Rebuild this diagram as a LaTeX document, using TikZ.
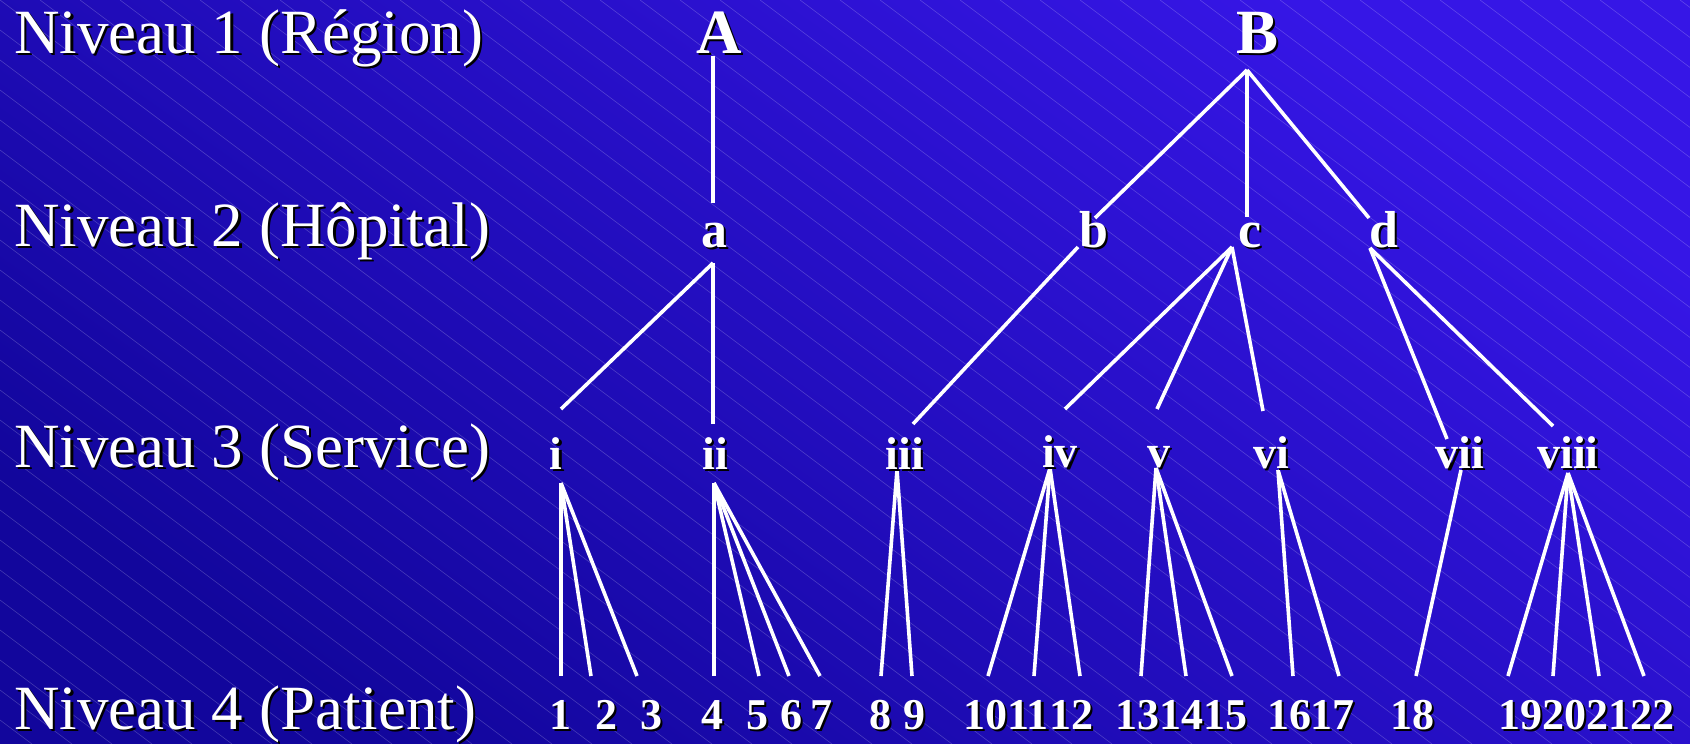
\documentclass[tikz,border=0pt]{standalone}
\usepackage{fontspec}
\setmainfont{Liberation Serif}
\definecolor{bgdark}{RGB}{18,6,156}
\definecolor{bglight}{RGB}{54,22,230}
\newcommand\shd[1]{\leavevmode\rlap{\kern2.4pt\raisebox{-2.4pt}{\textcolor{black}{#1}}}#1}
\begin{document}
\begin{tikzpicture}[x=1pt,y=-1pt,
  lvl/.style={anchor=base west,text=white,inner sep=0pt,font=\fontsize{63}{63}\selectfont},
  rootlab/.style={anchor=base,text=white,inner sep=0pt,font=\fontsize{63}{63}\selectfont\bfseries},
  hosplab/.style={anchor=base,text=white,inner sep=0pt,font=\fontsize{52}{52}\selectfont\bfseries},
  servlab/.style={anchor=base,text=white,inner sep=0pt,font=\fontsize{46}{46}\selectfont\bfseries},
  patlab/.style={anchor=base,text=white,inner sep=0pt,font=\fontsize{44}{44}\selectfont\bfseries},
  edge/.style={draw=white,line width=3.6pt},
  hatch/.style={draw=white,opacity=0.2,line width=0.6pt}]
% background
\shade[top color=bglight,bottom color=bgdark,shading angle=-35] (0,0) rectangle (1690,744);
\useasboundingbox (0,0) rectangle (1690,744);
\begin{scope}
  \clip (0,0) rectangle (1690,744);
  \foreach \k in {-26,...,43} \draw[hatch] (\k*40,0) -- ++(992,744);
\end{scope}

% attach points
\coordinate (A-d) at (713,56);   \coordinate (a-u) at (713,203);
\coordinate (B-d) at (1247,70);  \coordinate (b-u) at (1095,218);
\coordinate (c-u) at (1247,217); \coordinate (d-u) at (1369,218);
\coordinate (a-d) at (713,263);  \coordinate (i-u) at (561,409);  \coordinate (ii-u) at (713,424);
\coordinate (b-d) at (1078,247); \coordinate (iii-u) at (913,424);
\coordinate (c-d) at (1232,247); \coordinate (iv-u) at (1065,409);
\coordinate (v-u) at (1157,409); \coordinate (vi-u) at (1263,411);
\coordinate (d-d) at (1370,248); \coordinate (vii-u) at (1447,439); \coordinate (viii-u) at (1553,426);
\coordinate (i-d) at (561,483);   \coordinate (ii-d) at (714,483);  \coordinate (iii-d) at (897,470);
\coordinate (iv-d) at (1050,468); \coordinate (v-d) at (1156,468);  \coordinate (vi-d) at (1278,470);
\coordinate (vii-d) at (1461,470); \coordinate (viii-d) at (1568,473);
\foreach \n/\x in {1/561,2/591,3/637,4/714,5/759,6/789,7/820,8/881,9/912,10/988,11/1034,12/1080,
  13/1141,14/1186,15/1232,16/1293,17/1339,18/1416,19/1508,20/1553,21/1599,22/1644}
  \coordinate (p\n-u) at (\x,676);

% connectors
\draw[edge] (A-d) -- (a-u);
\draw[edge] (B-d) -- (b-u);
\draw[edge] (B-d) -- (c-u);
\draw[edge] (B-d) -- (d-u);
\draw[edge] (a-d) -- (i-u);
\draw[edge] (a-d) -- (ii-u);
\draw[edge] (b-d) -- (iii-u);
\draw[edge] (c-d) -- (iv-u);
\draw[edge] (c-d) -- (v-u);
\draw[edge] (c-d) -- (vi-u);
\draw[edge] (d-d) -- (vii-u);
\draw[edge] (d-d) -- (viii-u);
\foreach \n in {1,2,3} \draw[edge] (i-d) -- (p\n-u);
\foreach \n in {4,5,6,7} \draw[edge] (ii-d) -- (p\n-u);
\foreach \n in {8,9} \draw[edge] (iii-d) -- (p\n-u);
\foreach \n in {10,11,12} \draw[edge] (iv-d) -- (p\n-u);
\foreach \n in {13,14,15} \draw[edge] (v-d) -- (p\n-u);
\foreach \n in {16,17} \draw[edge] (vi-d) -- (p\n-u);
\draw[edge] (vii-d) -- (p18-u);
\foreach \n in {19,20,21,22} \draw[edge] (viii-d) -- (p\n-u);

% level labels
\node[lvl] (n1) at (14,53)  {\shd{Niveau 1 (Région)}};
\node[lvl] (n2) at (14,246) {\shd{Niveau 2 (Hôpital)}};
\node[lvl] (n3) at (14,467) {\shd{Niveau 3 (Service)}};
\node[lvl] (n4) at (14,729) {\shd{Niveau 4 (Patient)}};

% tree labels
\node[rootlab] (A) at (719,53)  {\shd{A}};
\node[rootlab] (B) at (1257,53) {\shd{B}};
\node[hosplab] (a) at (714,247)  {\shd{a}};
\node[hosplab] (b) at (1094,247) {\shd{b}};
\node[hosplab] (c) at (1250,247) {\shd{c}};
\node[hosplab] (d) at (1384,247) {\shd{d}};
\node[servlab] (i)    at (556,469)  {\shd{i}};
\node[servlab] (ii)   at (715,469)  {\shd{ii}};
\node[servlab] (iii)  at (905,469)  {\shd{iii}};
\node[servlab] (iv)   at (1060,467) {\shd{iv}};
\node[servlab] (v)    at (1159,467) {\shd{v}};
\node[servlab] (vi)   at (1271,468) {\shd{vi}};
\node[servlab] (vii)  at (1460,468) {\shd{vii}};
\node[servlab] (viii) at (1568,468) {\shd{viii}};
\foreach \n/\x in {1/560,2/606,3/651,4/712,5/757,6/791,7/821,8/880,9/914,10/985,11/1028,12/1071,
  13/1137,14/1181,15/1225,16/1289,17/1332,18/1412,19/1520,20/1564,21/1608,22/1652}
  \node[patlab] (p\n) at (\x,729) {\shd{\n}};
\end{tikzpicture}
\end{document}
